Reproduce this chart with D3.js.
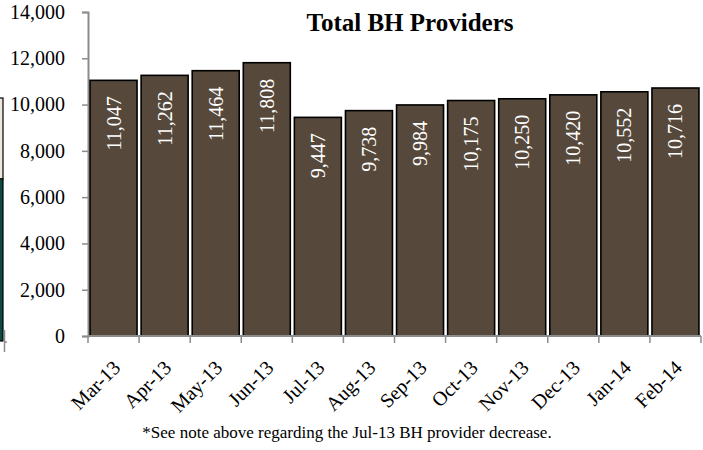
<!DOCTYPE html>
<html>
<head>
<meta charset="utf-8">
<script src="https://cdn.jsdelivr.net/npm/d3@7"></script>
<style>
  html, body { margin: 0; padding: 0; background: #fff; }
  svg { display: block; }
  text { font-family: "Liberation Serif", "DejaVu Serif", serif; }
</style>
</head>
<body>
<svg id="chart" width="703" height="450"></svg>
<script>
const categories = ["Mar-13","Apr-13","May-13","Jun-13","Jul-13","Aug-13","Sep-13","Oct-13","Nov-13","Dec-13","Jan-14","Feb-14"];
const providers = [11047, 11262, 11464, 11808, 9447, 9738, 9984, 10175, 10250, 10420, 10552, 10716];
const yTicks = [0, 2000, 4000, 6000, 8000, 10000, 12000, 14000];
const chartTitle = "Total BH Providers";
const footnote = "*See note above regarding the Jul-13 BH provider decrease.";

(function () {
const svg = d3.select("#chart");
const pLeft = 88, pRight = 701, pTop = 12, pBottom = 336;

const x = d3.scaleBand().domain(categories).range([pLeft, pRight]).paddingInner(0.08).paddingOuter(0.04);
const y = d3.scaleLinear().domain([0, 14000]).range([pBottom, pTop]);

// remnants of neighbouring chart at the left edge
svg.append("rect").attr("x", -2).attr("y", 98).attr("width", 5).attr("height", 81)
  .attr("fill", "#ece6df").attr("stroke", "#000").attr("stroke-width", 1.2);
svg.append("rect").attr("x", -2).attr("y", 179).attr("width", 5).attr("height", 162)
  .attr("fill", "#0d4a3f").attr("stroke", "#000").attr("stroke-width", 1.2);
svg.append("path").attr("d", "M4.5,330 V352 M4.5,342 H7").attr("stroke", "#8c8c8c").attr("stroke-width", 1.5).attr("fill", "none");

// title
svg.append("text").attr("x", 410).attr("y", 31).attr("text-anchor", "middle")
  .attr("font-size", 25).attr("font-weight", "bold").attr("fill", "#000").text(chartTitle);

// y axis
const yAxis = d3.axisLeft(y).tickValues(yTicks).tickSize(6).tickPadding(17)
  .tickFormat(d3.format(","));
const gy = svg.append("g").attr("transform", `translate(${pLeft},0)`).call(yAxis);
gy.select(".domain").attr("stroke", "#8c8c8c").attr("stroke-width", 2);
gy.selectAll(".tick line").attr("stroke", "#8c8c8c").attr("stroke-width", 1.5);
gy.selectAll(".tick text").attr("font-size", 20).attr("fill", "#000")
  .attr("font-family", "Liberation Serif, serif");

// bars
svg.append("g").selectAll("rect").data(providers).join("rect")
  .attr("x", (d, i) => x(categories[i]))
  .attr("y", d => y(d))
  .attr("width", x.bandwidth())
  .attr("height", d => y(0) - y(d))
  .attr("fill", "#56493b")
  .attr("stroke", "#000").attr("stroke-width", 1.6);

// value labels
svg.append("g").selectAll("text").data(providers).join("text")
  .attr("transform", (d, i) => `translate(${x(categories[i]) + x.bandwidth() / 2 + 7},${y(d) + 16}) rotate(-90)`)
  .attr("text-anchor", "end")
  .attr("font-size", 20).attr("fill", "#fff")
  .text(d => d3.format(",")(d));

// x axis
const step = x.step();
const boundaries = categories.map(c => x(c) - step * x.paddingInner() / 2).concat([pRight]);
boundaries[0] = pLeft;
svg.append("line").attr("x1", pLeft).attr("x2", pRight).attr("y1", pBottom).attr("y2", pBottom)
  .attr("stroke", "#8c8c8c").attr("stroke-width", 2);
svg.append("g").selectAll("line").data(boundaries).join("line")
  .attr("x1", d => d).attr("x2", d => d).attr("y1", pBottom).attr("y2", pBottom + 7)
  .attr("stroke", "#8c8c8c").attr("stroke-width", 1.5);

const xAxis = d3.axisBottom(x).tickSize(0).tickPadding(0);
const gx = svg.append("g").attr("transform", `translate(0,${pBottom})`).call(xAxis);
gx.select(".domain").remove();
gx.selectAll(".tick text")
  .attr("font-size", 20).attr("fill", "#000").attr("font-family", "Liberation Serif, serif")
  .attr("text-anchor", "end")
  .attr("transform", "translate(3,28) rotate(-45)")
  .attr("dy", "0.35em").attr("y", 0).attr("x", 0);

// footnote
svg.append("text").attr("x", 347).attr("y", 438).attr("text-anchor", "middle")
  .attr("font-size", 17).attr("fill", "#000").text(footnote);
})();
</script>
</body>
</html>
